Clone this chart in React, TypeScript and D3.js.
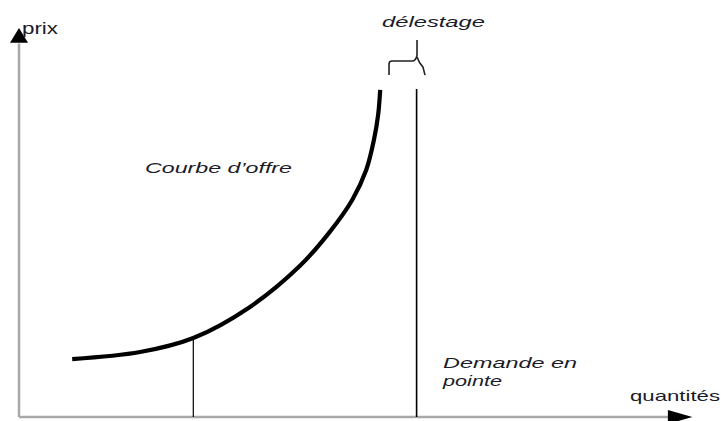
import React from "react";
import * as d3 from "d3";

// Supply curve (quantity, price) in arbitrary units
const supplyQ = [7.6, 17.3, 24.9, 33, 40.1, 44.4, 47.6, 49.6, 50.7, 51.3, 51.6];
const supplyP = [14.9, 16.7, 20.3, 28.3, 38.8, 47.6, 55.8, 63.5, 71.2, 77.6, 84.1];

// Vertical reference lines: quantity, top price
const refQ = [24.9, 56.8];
const refTop = [20.3, 84.3];

const axisLabels = ["prix", "quantités"];
const annotations = ["délestage", "Courbe d\u2019offre", "Demande en", "pointe"];

const W = 727;
const H = 421;

export default function App() {
  const x = d3.scaleLinear().domain([0, 100]).range([19, 719]);
  const y = d3.scaleLinear().domain([0, 100]).range([417, 28]);

  const pts: [number, number][] = supplyQ.map((q, i) => [q, supplyP[i]]);
  const line = d3
    .line<[number, number]>()
    .x((d) => x(d[0]))
    .y((d) => y(d[1]))
    .curve(d3.curveCatmullRom.alpha(0.5));

  const x0 = x(0);
  const y0 = y(0);

  // brace above the gap between supply end and peak demand
  const bL = x(52.86);
  const bM = x(56.86);
  const bR = x(58);
  const bBot = y(87.9);
  const bH = y(91.5);
  const bPeak = y(96.9);
  const brace = `M${bL},${bBot} L${bL},${bH + 3} Q${bL},${bH} ${bL + 3},${bH} L${bM - 4},${bH} Q${bM - 1},${bH - 1} ${bM},${bH - 6} L${bM},${bPeak} M${bM},${bH - 4} Q${bM + 2},${bH + 2} ${bR - 2},${bH + 6} L${bR},${bBot}`;

  const font = "'Liberation Sans', Arial, sans-serif";
  const txt = "#1b1b2a";

  return (
    <svg
      width={W}
      height={H}
      style={{ position: "absolute", left: 0, top: 0, background: "#fff" }}
      fontFamily={font}
    >
      <rect width={W} height={H} fill="#fff" />
      {/* axes */}
      <line x1={x0} y1={y0} x2={x(92.7)} y2={y0} stroke="#a8a8a8" strokeWidth={2.5} />
      <line x1={x0} y1={y0} x2={x0} y2={y(96)} stroke="#a8a8a8" strokeWidth={2.5} />
      <path d={`M${x0 - 9},${y(96.2)} L${x0},${y(100)} L${x0 + 9},${y(96.2)} Z`} fill="#000" />
      <path d={`M${x(92.7)},${y0 - 7} L${x(96.2)},${y0} L${x(92.7)},${y0 + 7} Z`} fill="#000" />

      {/* reference verticals */}
      {refQ.map((q, i) => (
        <line
          key={i}
          x1={x(q)}
          x2={x(q)}
          y1={y(refTop[i])}
          y2={y0}
          stroke="#000"
          strokeWidth={i === 0 ? 1.2 : 1.6}
        />
      ))}

      {/* supply curve */}
      <path d={line(pts) || ""} fill="none" stroke="#000" strokeWidth={4.2} strokeLinecap="butt" />

      {/* brace */}
      <path d={brace} fill="none" stroke="#222" strokeWidth={1.6} />

      {/* labels */}
      <text x={22} y={34} fontSize={16} fill={txt} textLength={36} lengthAdjust="spacingAndGlyphs">
        {axisLabels[0]}
      </text>
      <text x={630} y={401} fontSize={15} fill={txt} textLength={90} lengthAdjust="spacingAndGlyphs">
        {axisLabels[1]}
      </text>
      <text x={382} y={27} fontSize={15} fontStyle="italic" fill={txt} textLength={103} lengthAdjust="spacingAndGlyphs">
        {annotations[0]}
      </text>
      <text x={145} y={173} fontSize={14} fontStyle="italic" fill={txt} textLength={147} lengthAdjust="spacingAndGlyphs">
        {annotations[1]}
      </text>
      <text x={443} y={368} fontSize={15} fontStyle="italic" fill={txt} textLength={134} lengthAdjust="spacingAndGlyphs">
        {annotations[2]}
      </text>
      <text x={443} y={386} fontSize={15} fontStyle="italic" fill={txt} textLength={59} lengthAdjust="spacingAndGlyphs">
        {annotations[3]}
      </text>
    </svg>
  );
}
